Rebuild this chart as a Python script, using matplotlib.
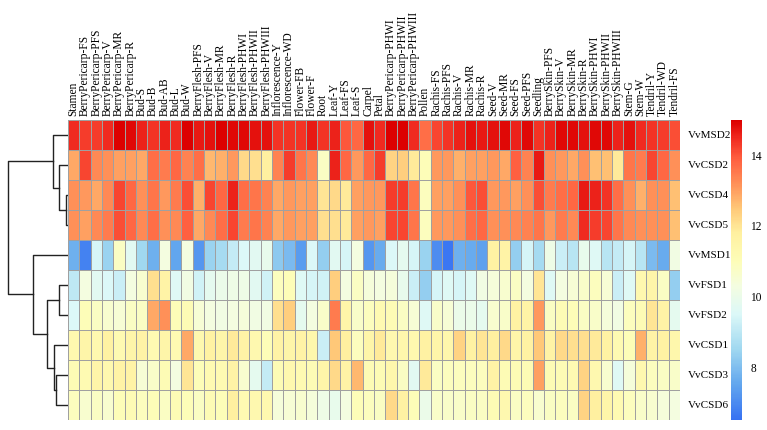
import numpy as np
import matplotlib.pyplot as plt
from matplotlib.colors import LinearSegmentedColormap, Normalize

plt.rcParams['font.family'] = ['Liberation Serif', 'DejaVu Serif']

# Гени (рядки) і тканини (стовпці)
genes = ['VvMSD2', 'VvCSD2', 'VvCSD4', 'VvCSD5', 'VvMSD1',
         'VvFSD1', 'VvFSD2', 'VvCSD1', 'VvCSD3', 'VvCSD6']

tissues = ['Stamen', 'BerryPericarp-FS', 'BerryPericarp-PFS', 'BerryPericarp-V',
           'BerryPericarp-MR', 'BerryPericarp-R', 'Bud-S', 'Bud-B', 'Bud-AB',
           'Bud-L', 'Bud-W', 'BerryFlesh-PFS', 'BerryFlesh-V', 'BerryFlesh-MR',
           'BerryFlesh-R', 'BerryFlesh-PHWI', 'BerryFlesh-PHWII', 'BerryFlesh-PHWIII',
           'Inflorescence-Y', 'Inflorescence-WD', 'Flower-FB', 'Flower-F', 'Root',
           'Leaf-Y', 'Leaf-FS', 'Leaf-S', 'Carpel', 'Petal', 'BerryPericarp-PHWI',
           'BerryPericarp-PHWII', 'BerryPericarp-PHWIII', 'Pollen', 'Rachis-FS',
           'Rachis-PFS', 'Rachis-V', 'Rachis-MR', 'Rachis-R', 'Seed-V', 'Seed-MR',
           'Seed-FS', 'Seed-PFS', 'Seedling', 'BerrySkin-PFS', 'BerrySkin-V',
           'BerrySkin-MR', 'BerrySkin-R', 'BerrySkin-PHWI', 'BerrySkin-PHWII',
           'BerrySkin-PHWIII', 'Stem-G', 'Stem-W', 'Tendril-Y', 'Tendril-WD', 'Tendril-FS']

# Рівні експресії (оцінені з рисунка)
VvMSD2 = [14.5, 14.3, 14.3, 14.5, 15.0, 14.9, 14.6, 14.4, 14.6,
          14.5, 15.0, 14.7, 14.8, 15.0, 14.9, 14.9, 14.8, 14.8,
          14.4, 14.4, 14.4, 14.7, 14.4, 14.6, 14.0, 13.8, 14.8,
          14.5, 15.0, 15.0, 14.5, 13.7, 14.2, 14.4, 14.6, 14.8,
          14.7, 14.8, 14.9, 14.6, 14.9, 14.4, 14.6, 14.9, 14.9,
          14.8, 14.9, 14.9, 14.6, 14.8, 14.5, 14.4, 14.3, 14.1]
VvCSD2 = [12.9, 14.2, 13.3, 13.2, 13.0, 13.0, 12.9, 13.7, 13.5,
          13.8, 13.4, 13.7, 12.7, 12.8, 13.1, 12.2, 12.1, 11.8,
          13.4, 14.3, 13.6, 13.3, 10.8, 14.6, 13.8, 13.1, 13.8,
          14.3, 12.3, 12.4, 11.9, 11.0, 13.1, 13.1, 12.8, 13.0,
          13.0, 13.1, 12.9, 13.9, 13.4, 14.7, 13.2, 13.1, 12.9,
          13.2, 12.6, 12.6, 11.9, 13.6, 13.5, 14.2, 13.8, 13.2]
VvCSD4 = [13.2, 13.1, 12.9, 13.3, 14.2, 13.8, 13.2, 13.6, 13.1,
          13.5, 14.1, 12.8, 14.2, 13.8, 14.6, 13.7, 13.6, 13.4,
          12.9, 13.1, 13.0, 13.0, 12.0, 12.2, 11.9, 13.0, 13.1,
          13.1, 14.3, 14.3, 13.6, 10.9, 13.0, 13.0, 13.2, 14.0,
          14.1, 13.1, 13.1, 13.0, 13.2, 14.1, 13.5, 13.7, 13.8,
          14.7, 14.6, 14.4, 13.7, 13.2, 12.8, 13.2, 13.2, 12.6]
VvCSD5 = [13.2, 13.0, 13.3, 13.5, 14.1, 13.8, 13.3, 13.7, 13.2,
          13.3, 13.9, 12.9, 13.3, 13.7, 14.2, 13.5, 13.6, 13.4,
          12.9, 13.1, 13.0, 13.0, 12.1, 12.1, 11.9, 13.0, 13.1,
          13.0, 14.2, 14.2, 13.6, 10.9, 13.1, 13.1, 13.2, 13.7,
          13.8, 13.2, 13.2, 13.3, 13.4, 13.6, 13.1, 13.5, 13.3,
          14.5, 14.3, 14.2, 13.6, 13.3, 13.2, 13.2, 13.2, 12.6]
VvMSD1 = [7.7, 6.8, 9.4, 8.4, 10.8, 9.7, 8.5, 7.7, 10.3,
          7.5, 10.3, 7.2, 8.4, 8.6, 9.1, 9.5, 9.7, 9.9,
          8.2, 7.9, 7.3, 9.5, 8.3, 9.7, 9.4, 10.3, 7.2,
          7.6, 9.5, 9.8, 9.4, 8.4, 7.0, 6.6, 7.7, 7.6,
          7.4, 11.7, 11.6, 8.3, 9.4, 8.6, 10.1, 9.2, 8.9,
          9.9, 9.6, 8.9, 9.1, 9.4, 8.9, 7.9, 7.6, 10.2]
VvFSD1 = [9.0, 10.3, 9.7, 9.5, 9.2, 10.3, 10.6, 12.1, 11.6,
          9.6, 10.2, 9.3, 9.8, 10.0, 10.1, 10.1, 9.7, 9.3,
          10.9, 11.0, 9.6, 9.4, 9.3, 12.4, 10.3, 10.8, 10.4,
          10.3, 10.4, 9.9, 9.2, 8.3, 9.4, 9.6, 9.4, 9.6,
          10.2, 10.4, 10.6, 10.8, 10.3, 12.0, 9.6, 10.3, 10.5,
          10.7, 10.9, 10.5, 9.2, 9.6, 11.3, 11.5, 10.8, 8.3]
VvFSD2 = [9.5, 11.0, 10.8, 10.6, 10.5, 10.8, 10.8, 12.9, 13.2,
          11.0, 11.1, 10.5, 10.3, 10.2, 10.3, 10.4, 10.2, 10.2,
          12.1, 12.4, 9.8, 10.3, 10.7, 13.5, 11.5, 10.7, 10.9,
          11.2, 11.1, 10.8, 10.5, 9.6, 10.7, 10.5, 10.0, 10.0,
          9.8, 10.6, 10.7, 11.7, 11.6, 13.1, 10.8, 11.1, 11.0,
          10.8, 10.7, 10.4, 10.2, 10.9, 11.1, 12.0, 11.6, 9.8]
VvCSD1 = [11.3, 11.5, 11.3, 11.7, 11.2, 11.5, 11.6, 11.2, 11.5,
          11.2, 12.9, 11.3, 11.7, 11.5, 11.9, 11.6, 11.3, 11.0,
          11.6, 11.5, 11.6, 11.4, 9.2, 12.5, 11.8, 10.9, 11.5,
          11.9, 11.3, 11.4, 11.3, 11.7, 11.5, 11.4, 12.3, 11.7,
          12.0, 11.8, 12.2, 11.5, 11.7, 12.5, 11.6, 12.2, 12.1,
          12.1, 11.9, 11.7, 11.2, 11.0, 12.8, 11.6, 11.7, 11.4]
VvCSD3 = [11.1, 11.2, 11.5, 11.3, 11.6, 11.6, 10.5, 10.7, 11.1,
          10.3, 12.0, 11.0, 11.2, 11.2, 11.6, 10.6, 9.8, 9.1,
          11.1, 11.3, 11.2, 11.1, 11.5, 12.2, 11.6, 12.7, 11.1,
          11.1, 11.4, 10.8, 9.7, 11.9, 10.8, 10.9, 10.9, 10.9,
          10.9, 11.6, 11.1, 11.1, 11.1, 13.0, 11.1, 11.1, 11.2,
          12.3, 11.3, 10.6, 9.6, 10.4, 11.3, 10.9, 10.8, 10.7]
VvCSD6 = [10.9, 10.6, 10.8, 10.6, 11.0, 11.1, 10.9, 11.0, 10.8,
          11.1, 11.0, 10.8, 11.1, 11.0, 11.8, 11.2, 11.3, 11.3,
          10.4, 10.5, 10.6, 10.4, 10.1, 9.9, 10.3, 11.0, 10.9,
          10.8, 12.2, 11.7, 11.0, 10.0, 10.7, 10.7, 10.7, 10.8,
          10.8, 11.1, 11.3, 10.8, 10.9, 10.6, 10.8, 10.9, 10.8,
          12.3, 11.8, 11.5, 11.2, 10.9, 10.7, 10.6, 10.4, 10.3]

# Кластеризація рядків: (лівий, правий, висота); нові вузли нумеруються з 10
link_left = [2, 1, 0, 8, 7, 5, 15, 4, 12]
link_right = [3, 10, 11, 9, 13, 6, 14, 16, 17]
link_height = [2, 9, 15, 12, 14, 9, 21, 35, 60]

data = np.array([VvMSD2, VvCSD2, VvCSD4, VvCSD5, VvMSD1,
                 VvFSD1, VvFSD2, VvCSD1, VvCSD3, VvCSD6])

# Палітра
stops = [6.5, 7.5, 8.5, 9.5, 10.3, 11.0, 11.8, 12.5, 13.2, 13.9, 14.5, 15.0]
colors = ['#3772f2', '#62a6ee', '#a0d8f0', '#dcf8f8', '#f4fde0', '#fdfdb8',
          '#fff0a0', '#ffc878', '#ff9058', '#ff6040', '#f02a20', '#dc0000']
vmin, vmax = 6.5, 15.0
cmap = LinearSegmentedColormap.from_list(
    'expr', [((s - vmin) / (vmax - vmin), c) for s, c in zip(stops, colors)])
norm = Normalize(vmin=vmin, vmax=vmax)

W, H = 767, 430
fig = plt.figure(figsize=(W / 100, H / 100), dpi=100)

# Теплова карта
ax = fig.add_axes([68 / W, 10 / H, 612 / W, 300 / H])
ax.pcolormesh(data, cmap=cmap, norm=norm, edgecolors='#a0a0a0', linewidth=0.7)
ax.set_xlim(0, data.shape[1])
ax.set_ylim(data.shape[0], 0)
ax.set_xticks(np.arange(len(tissues)) + 0.5)
ax.set_xticklabels(tissues, rotation=90, fontsize=8.3)
ax.xaxis.tick_top()
ax.set_yticks(np.arange(len(genes)) + 0.5)
ax.set_yticklabels(genes, fontsize=8)
ax.yaxis.tick_right()
ax.tick_params(axis='x', length=0, pad=3)
ax.tick_params(axis='y', length=0, pad=6)
for s in ax.spines.values():
    s.set_visible(False)

# Дендрограма
dax = fig.add_axes([0, 10 / H, 68 / W, 300 / H])
pos = {i: (0.0, i + 0.5) for i in range(len(genes))}
for k, (a, b, h) in enumerate(zip(link_left, link_right, link_height)):
    ha, ya = pos[a]
    hb, yb = pos[b]
    dax.plot([ha, h, h, hb], [ya, ya, yb, yb], color='#222222', lw=1)
    pos[len(genes) + k] = (h, (ya + yb) / 2)
dax.set_xlim(68, 0)
dax.set_ylim(data.shape[0], 0)
dax.axis('off')

# Шкала кольорів
cax = fig.add_axes([731 / W, 10 / H, 11 / W, 300 / H])
sm = plt.cm.ScalarMappable(norm=norm, cmap=cmap)
cb = fig.colorbar(sm, cax=cax, ticks=[8, 10, 12, 14])
cb.outline.set_visible(False)
cax.tick_params(length=0, pad=6, labelsize=8.3)

fig.savefig('out.png', dpi=100)
